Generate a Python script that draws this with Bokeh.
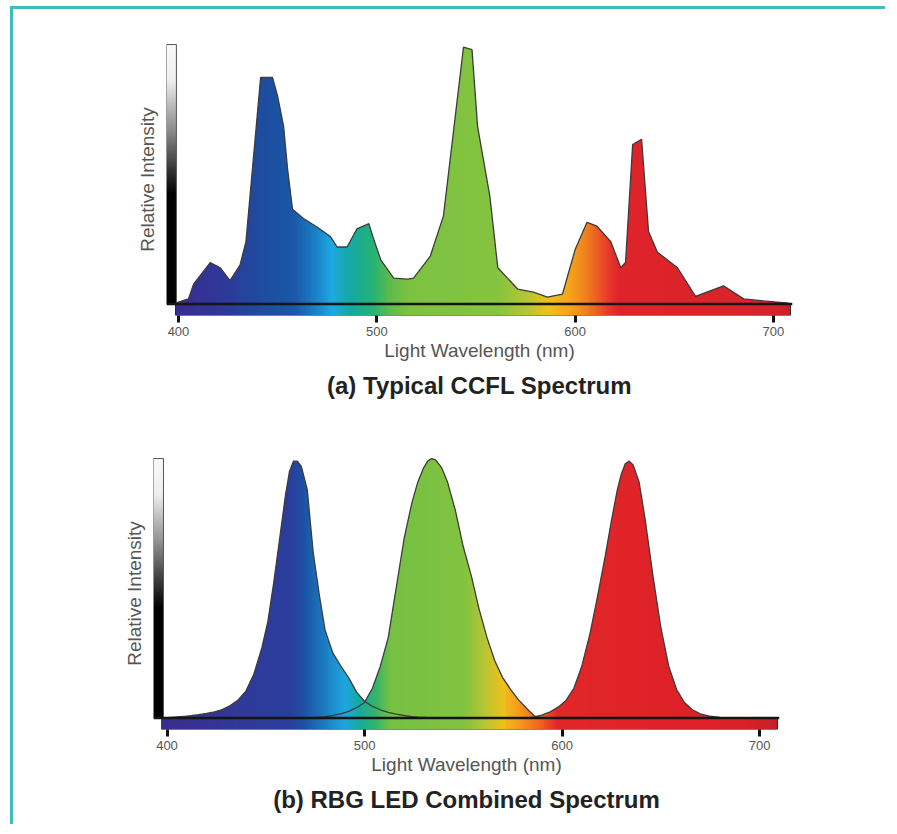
import numpy as np
from bokeh.plotting import figure
from bokeh.models import Range1d, FixedTicker, Title, Span
from bokeh.layouts import column, row
from bokeh.embed import file_html
from bokeh.resources import INLINE

# ---------------- data ----------------
# (a) CCFL spectrum: wavelength (nm) and relative intensity
ccfl_nm = [398.5, 405, 407.6, 416, 421, 426, 431, 434, 441.4, 447.4, 450, 453, 455, 457.5,
           463, 470, 476.6, 480, 485, 490, 496, 498, 502, 508.5, 515.5, 518.5, 527, 533.6,
           543.7, 548, 550.8, 557, 561, 571, 579, 586, 593.6, 600, 606, 611, 618, 623,
           625.4, 629, 633.5, 637, 641.5, 651.6, 660.7, 674.8, 685, 695, 707.6]
ccfl_val = [0.004, 0.02, 0.077, 0.16, 0.14, 0.09, 0.15, 0.24, 0.873, 0.873, 0.80, 0.685, 0.52, 0.365,
            0.33, 0.296, 0.26, 0.22, 0.22, 0.29, 0.31, 0.26, 0.17, 0.10, 0.096, 0.10, 0.185, 0.34,
            0.99, 0.98, 0.685, 0.415, 0.14, 0.058, 0.046, 0.027, 0.038, 0.21, 0.315, 0.30, 0.24, 0.14,
            0.16, 0.615, 0.635, 0.28, 0.20, 0.14, 0.03, 0.07, 0.02, 0.012, 0.004]

# (b) RGB LED spectrum: shared wavelength grid, one intensity list per LED
led_nm = [396, 400, 404, 408, 412, 416, 420, 424, 428, 432, 436, 440, 444, 448,
          451, 454, 457, 460, 462, 464, 466, 468, 471, 474, 477, 480,
          484, 488, 492, 496, 500, 504, 508, 512, 516, 520, 524,
          527, 530, 532, 534, 536, 539, 542,
          546, 550, 554, 558, 562, 566, 570, 574, 578, 582, 586, 590, 594, 598, 602, 606, 610, 614, 618, 622,
          625, 628, 630, 632, 634, 636, 639, 642,
          646, 650, 654, 658, 662, 666, 670,
          675, 680, 686, 692, 698, 704, 708]
led_blue = [0, 0.002, 0.004, 0.006, 0.009, 0.013, 0.018, 0.024, 0.033, 0.048, 0.07, 0.105, 0.17, 0.27,
            0.37, 0.52, 0.69, 0.86, 0.95, 0.99, 0.99, 0.97, 0.88, 0.64, 0.48, 0.34,
            0.25, 0.20, 0.155, 0.10, 0.065, 0.045, 0.032, 0.022, 0.015, 0.010, 0.006,
            0.004, 0.003, 0.002, 0.001, 0, 0, 0,
            0, 0, 0, 0, 0, 0, 0, 0, 0, 0, 0, 0, 0, 0, 0, 0, 0, 0, 0, 0,
            0, 0, 0, 0, 0, 0, 0, 0,
            0, 0, 0, 0, 0, 0, 0,
            0, 0, 0, 0, 0, 0, 0]
led_green = [0, 0, 0, 0, 0, 0, 0, 0, 0, 0, 0, 0, 0, 0,
             0, 0, 0, 0, 0, 0, 0, 0, 0.001, 0.002, 0.004, 0.006,
             0.010, 0.016, 0.026, 0.040, 0.060, 0.115, 0.20, 0.31, 0.50, 0.69, 0.83,
             0.91, 0.965, 0.99, 1.0, 0.995, 0.965, 0.91,
             0.80, 0.66, 0.55, 0.42, 0.31, 0.22, 0.155, 0.11, 0.07, 0.038, 0.008, 0, 0, 0, 0, 0, 0, 0, 0, 0,
             0, 0, 0, 0, 0, 0, 0, 0,
             0, 0, 0, 0, 0, 0, 0,
             0, 0, 0, 0, 0, 0, 0]
led_red = [0, 0, 0, 0, 0, 0, 0, 0, 0, 0, 0, 0, 0, 0,
           0, 0, 0, 0, 0, 0, 0, 0, 0, 0, 0, 0,
           0, 0, 0, 0, 0, 0, 0, 0, 0, 0, 0,
           0, 0, 0, 0, 0, 0, 0,
           0, 0, 0, 0, 0, 0, 0, 0, 0, 0.001, 0.004, 0.012, 0.024, 0.042, 0.068, 0.115, 0.20, 0.32, 0.47, 0.63,
           0.76, 0.88, 0.94, 0.98, 0.99, 0.975, 0.91, 0.77,
           0.55, 0.35, 0.20, 0.11, 0.06, 0.032, 0.016,
           0.007, 0.003, 0.001, 0, 0, 0, 0]

tick_nm = [400, 500, 600, 700]

assert len(ccfl_nm) == len(ccfl_val)
assert len(led_nm) == len(led_blue) == len(led_green) == len(led_red)

# ---------------- styles ----------------
FONT = "Liberation Sans"
OUTLINE = "#3c3c3c"
TEAL = "#3dbdbd"

ccfl_stops = [(398, "#3a2d90"), (425, "#2e3a9a"), (440, "#1f4c9f"), (458, "#1a58a8"),
              (470, "#1a86c9"), (477, "#1eaae3"), (486, "#16a9a5"), (497, "#24b27a"),
              (506, "#5bbb4d"), (515, "#7cc242"), (560, "#85c440"), (575, "#b6c735"),
              (586, "#efc11d"), (596, "#f7a71b"), (606, "#f07e1f"), (614, "#e9472a"),
              (622, "#e0242a"), (700, "#d9232a"), (710, "#c42229")]
led_stops = [(397, "#3b2d8f"), (440, "#2f3a9a"), (462, "#2b3e9d"), (470, "#1c55a6"),
             (480, "#1b7fc4"), (490, "#1fa6df"), (497, "#16ab9e"), (505, "#33b46c"),
             (513, "#76c143"), (550, "#82c340"), (560, "#b5c634"), (570, "#f0c11d"),
             (578, "#f59b1c"), (588, "#ee6a22"), (597, "#e2272a"), (690, "#dc2027"),
             (710, "#c62229")]


def hex_rgb(h):
    return [int(h[i:i + 2], 16) for i in (1, 3, 5)]


def spectrum_image(stops, x0, x1, n):
    w = np.linspace(x0, x1, n)
    sn = [s[0] for s in stops]
    rgb = np.array([hex_rgb(s[1]) for s in stops], float)
    arr = np.zeros((1, n, 4), dtype=np.uint8)
    for c in range(3):
        arr[0, :, c] = np.interp(w, sn, rgb[:, c]).astype(np.uint8)
    arr[0, :, 3] = 255
    return arr.view(np.uint32).reshape(1, n)


def gray_image(n=256):
    t = np.linspace(0, 1, n)
    v = np.interp(t, [0, 0.42, 0.67, 0.86, 1.0], [0, 0, 140, 238, 250])
    arr = np.zeros((n, 1, 4), dtype=np.uint8)
    for c in range(3):
        arr[:, 0, c] = v.astype(np.uint8)
    arr[:, 0, 3] = 255
    return arr.view(np.uint32).reshape(n, 1)


BAR_H = 0.044
TOP = 1.0


def make_panel(title, xr, bar0, bar1, stops, curves_x, curves_y, mask_y,
               width, height, bl, br, bt, bb, gray_w):
    p = figure(width=width, height=height, output_backend="svg", toolbar_location=None,
               x_range=Range1d(*xr), y_range=Range1d(-BAR_H, 1.004),
               min_border_left=bl, min_border_right=br, min_border_top=bt, min_border_bottom=bb)
    p.outline_line_color = None
    p.xgrid.visible = False
    p.ygrid.visible = False
    p.background_fill_color = "white"
    p.border_fill_color = "white"

    # gradient fill (spectrum colours) for the area under the curve and the bar
    p.image_rgba(image=[spectrum_image(stops, bar0, bar1, 640)], x=bar0, y=-BAR_H,
                 dw=bar1 - bar0, dh=TOP + BAR_H)
    # white mask above the curve envelope
    mx = [bar0 - 2] + list(curves_x) + [bar1 + 2, bar1 + 2, bar0 - 2]
    my = [0] + list(mask_y) + [0, TOP + 0.05, TOP + 0.05]
    p.patch(mx, my, fill_color="white", line_color=None)
    # curve outlines
    for cy in curves_y:
        p.line(curves_x, cy, line_color=OUTLINE, line_width=1.3)
    # colour bar outline and baseline
    p.quad(left=bar0, right=bar1, bottom=-BAR_H, top=0, fill_color=None,
           line_color="#2a2a2a", line_width=1)
    p.add_layout(Span(location=0, dimension="width", line_color="#151515", line_width=2.5))
    # vertical grey intensity bar
    g0 = xr[0]
    p.image_rgba(image=[gray_image()], x=g0, y=0, dw=gray_w, dh=TOP)
    p.quad(left=g0, right=g0 + gray_w, bottom=0, top=TOP, fill_color=None,
           line_color="#555555", line_width=1)

    # axes
    ax = p.xaxis[0]
    ax.ticker = FixedTicker(ticks=tick_nm)
    ax.axis_line_color = None
    ax.major_tick_line_color = "#111111"
    ax.major_tick_line_width = 3
    ax.major_tick_out = 7
    ax.major_tick_in = 0
    ax.minor_tick_line_color = None
    ax.major_label_text_font = FONT
    ax.major_label_text_font_size = "13px"
    ax.major_label_text_color = "#555555"
    ax.major_label_standoff = 4
    ax.axis_label = "Light Wavelength (nm)"
    ax.axis_label_text_font = FONT
    ax.axis_label_text_font_size = "19px"
    ax.axis_label_text_font_style = "normal"
    ax.axis_label_text_color = "#555555"
    ax.axis_label_standoff = 1

    ay = p.yaxis[0]
    ay.ticker = FixedTicker(ticks=[])
    ay.axis_line_color = None
    ay.major_tick_line_color = None
    ay.minor_tick_line_color = None
    ay.major_label_text_font_size = "0px"
    ay.axis_label = "Relative Intensity"
    ay.axis_label_text_font = FONT
    ay.axis_label_text_font_size = "19px"
    ay.axis_label_text_font_style = "normal"
    ay.axis_label_text_color = "#555555"
    ay.axis_label_standoff = 9

    p.add_layout(Title(text=title, align="center", text_font=FONT, text_font_size="24px",
                       text_font_style="bold", text_color="#222222", standoff=12), "below")
    return p


p1 = make_panel("(a) Typical CCFL Spectrum", (393.95, 709.6), 398.5, 708.6, ccfl_stops,
                ccfl_nm, [ccfl_val], ccfl_val,
                width=872, height=418, bl=153, br=93, bt=34, bb=112, gray_w=5.0)

led_env = np.maximum.reduce([np.array(led_blue), np.array(led_green), np.array(led_red)])
p2 = make_panel("(b) RBG LED Combined Spectrum", (393.16, 710.1), 397.3, 709.1, led_stops,
                led_nm, [led_blue, led_green, led_red], led_env,
                width=872, height=397, bl=140, br=106, bt=30, bb=95, gray_w=5.05)

layout = column(row(p1), row(p2), margin=(6, 0, 0, 10),
                styles={"border-top": "3px solid " + TEAL, "border-left": "3px solid " + TEAL})

open("out.html", "w").write(file_html(layout, INLINE))
